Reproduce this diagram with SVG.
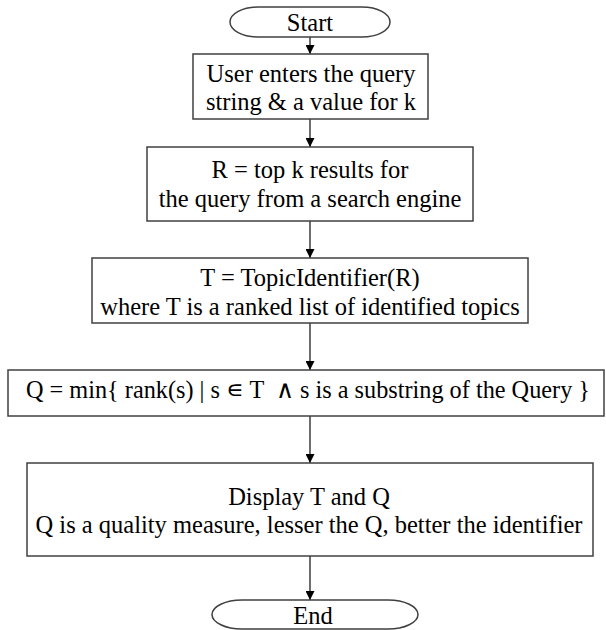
<svg xmlns="http://www.w3.org/2000/svg" width="606" height="630" viewBox="0 0 606 630">
<defs>
<style>
.box{fill:#fff;stroke:#404040;stroke-width:1.5}
.t{font-family:"Liberation Serif","Times New Roman",serif;font-size:24.5px;fill:#000;text-anchor:middle}
.c{stroke:#202020;stroke-width:1.3;fill:none;marker-end:url(#ah)}
</style>
<marker id="ah" viewBox="0 0 10 10" refX="10" refY="5" markerWidth="9" markerHeight="9" markerUnits="userSpaceOnUse" orient="auto">
<path d="M0,0 L10,5 L0,10 z" fill="#000"/>
</marker>
</defs>
<rect width="606" height="630" fill="#fff"/>
<g id="connectors">
<line class="c" x1="310" y1="37" x2="310" y2="54"/>
<line class="c" x1="310" y1="119" x2="310" y2="147"/>
<line class="c" x1="310" y1="221" x2="310" y2="258"/>
<line class="c" x1="310" y1="323" x2="310" y2="370"/>
<line class="c" x1="310" y1="416" x2="310" y2="463"/>
<line class="c" x1="310" y1="556" x2="310" y2="600"/>
</g>
<g id="start">
<rect class="box" x="230" y="7" width="160" height="30" rx="28" ry="15"/>
<text class="t" x="310" y="31">Start</text>
</g>
<g id="input">
<rect class="box" x="193" y="54" width="235" height="65"/>
<text class="t" x="311" y="82">User enters the query</text>
<text class="t" x="311" y="110">string &amp; a value for k</text>
</g>
<g id="search">
<rect class="box" x="147" y="147" width="326" height="74"/>
<text class="t" x="310" y="178">R = top k results for</text>
<text class="t" x="310" y="207">the query from a search engine</text>
</g>
<g id="topics">
<rect class="box" x="92" y="258" width="436" height="65"/>
<text class="t" x="310" y="286">T = TopicIdentifier(R)</text>
<text class="t" x="310" y="315">where T is a ranked list of identified topics</text>
</g>
<g id="quality">
<rect class="box" x="8" y="370" width="596" height="46"/>
<text class="t" x="308" y="398" textLength="564" lengthAdjust="spacingAndGlyphs" xml:space="preserve">Q = min{ rank(s) | s ∊ T  ∧ s is a substring of the Query }</text>
</g>
<g id="display">
<rect class="box" x="27" y="463" width="566" height="93"/>
<text class="t" x="309" y="505">Display T and Q</text>
<text class="t" x="309" y="533">Q is a quality measure, lesser the Q, better the identifier</text>
</g>
<g id="end">
<rect class="box" x="212" y="600" width="206" height="29" rx="30" ry="14.5"/>
<text class="t" x="313" y="624">End</text>
</g>
</svg>
